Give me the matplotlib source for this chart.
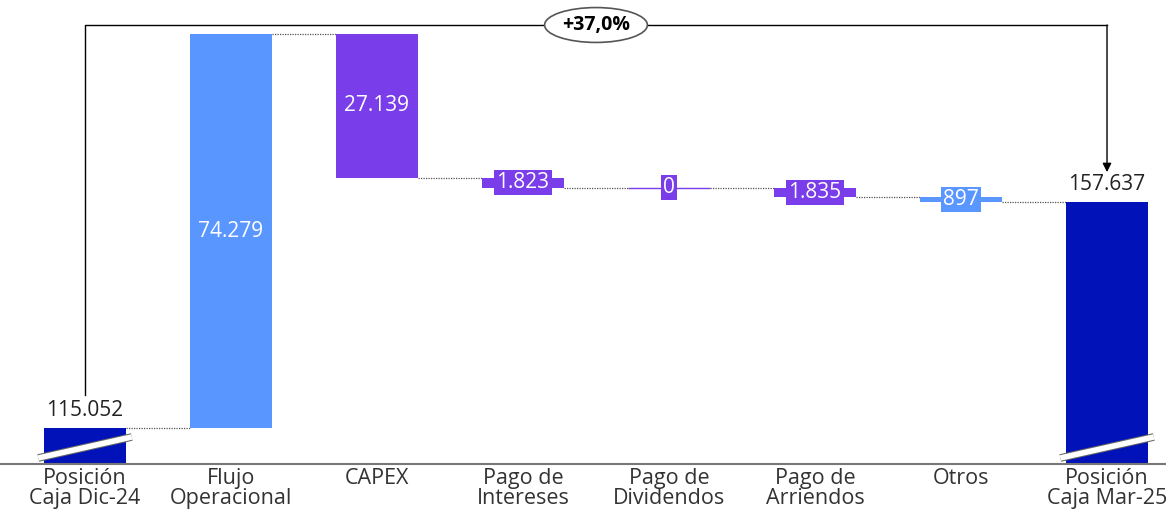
import numpy as np
import matplotlib.pyplot as plt

plt.rcParams['font.family'] = ['Open Sans', 'DejaVu Sans']

labels = ['Posición\nCaja Dic-24', 'Flujo\nOperacional', 'CAPEX', 'Pago de\nIntereses',
          'Pago de\nDividendos', 'Pago de\nArriendos', 'Otros', 'Posición\nCaja Mar-25']
values = [115052, 74279, -27139, -1823, 0, -1835, -897, 157637]
value_text = ['115.052', '74.279', '27.139', '1.823', '0', '1.835', '897', '157.637']
is_total = [True, False, False, False, False, False, False, True]
pct_text = '+37,0%'

dark_blue = '#0012B8'
light_blue = '#5A96FF'
purple = '#7A3DEA'
colors = [dark_blue, light_blue, purple, purple, purple, purple, light_blue, dark_blue]

fig = plt.figure(figsize=(11.66, 5.12), dpi=100)
ax = fig.add_axes([0, 48 / 512, 1, 464 / 512])
ymin, ymax = 108266, 195740
ax.set_ylim(ymin, ymax)
ax.set_xlim(-0.582, 7.404)
px = (ymax - ymin) / 464  # data units per pixel

x = np.arange(len(values))
bw = 0.56
bottoms, tops, levels = [], [], []
run = 0
for i, v in enumerate(values):
    if is_total[i]:
        b, t = ymin - 1000, v
        run = v
    else:
        b, t = min(run, run + v), max(run, run + v)
        run = run + v
    bottoms.append(b)
    tops.append(t)
    levels.append(run)

heights = [t - b for b, t in zip(bottoms, tops)]
ax.bar(x, heights, bottom=bottoms, width=bw, color=colors, linewidth=0, zorder=2)

# zero-height bar drawn as a line
for i, h in enumerate(heights):
    if h == 0:
        ax.hlines(tops[i], x[i] - bw / 2, x[i] + bw / 2, color=colors[i], lw=1, zorder=2)

# connectors
for i in range(len(values) - 1):
    ax.plot([x[i] + bw / 2, x[i + 1] - bw / 2], [levels[i], levels[i]],
            color='#555555', lw=0.9, ls=(0, (1, 1)), zorder=1)

# value labels
fs = 15
for i, v in enumerate(values):
    if is_total[i]:
        ax.annotate(value_text[i], (x[i], tops[i]), xytext=(0, 5), textcoords='offset points',
                    ha='center', va='bottom', fontsize=fs, color='#222222')
    elif heights[i] / px > 30:
        ax.text(x[i], (bottoms[i] + tops[i]) / 2, value_text[i], ha='center', va='center',
                fontsize=fs, color='white', zorder=3)
    else:
        ax.text(x[i], (bottoms[i] + tops[i]) / 2, value_text[i], ha='center', va='center',
                fontsize=fs, color='white', zorder=3,
                bbox=dict(boxstyle='square,pad=0.1', facecolor=colors[i], edgecolor='none'))

# axis break marks on totals
for i in range(len(values)):
    if is_total[i]:
        xs = [x[i] - 0.32, x[i] + 0.32]
        ys = [ymin + 6 * px, ymin + 27 * px]
        ax.plot(xs, ys, color='#666666', lw=5.5, solid_capstyle='butt', zorder=4)
        ax.plot(xs, ys, color='white', lw=4, solid_capstyle='butt', zorder=5)

# growth bracket
y_line = ymin + 439 * px
y_start = tops[0] + 33 * px
y_end = tops[-1] + 30 * px
ax.plot([x[0], x[0], x[-1]], [y_start, y_line, y_line], color='black', lw=1, zorder=3)
ax.annotate('', xy=(x[-1], y_end), xytext=(x[-1], y_line),
            arrowprops=dict(arrowstyle='-|>', color='black', lw=1, mutation_scale=13,
                            shrinkA=0, shrinkB=0), zorder=3)
ax.text((x[0] + x[-1]) / 2, y_line, pct_text, ha='center', va='center', fontsize=14,
        fontweight='bold', color='black', zorder=4,
        bbox=dict(boxstyle='ellipse,pad=0.12', facecolor='white', edgecolor='#555555', lw=1.2))

# axes styling
for s in ['top', 'right', 'left']:
    ax.spines[s].set_visible(False)
ax.spines['bottom'].set_color('#777777')
ax.spines['bottom'].set_linewidth(1.5)
ax.set_yticks([])
ax.set_xticks(x)
ax.set_xticklabels(labels, fontsize=15.5, color='#333333', linespacing=0.95)
ax.tick_params(axis='x', length=0, pad=3)

fig.savefig('out.png', dpi=100)
